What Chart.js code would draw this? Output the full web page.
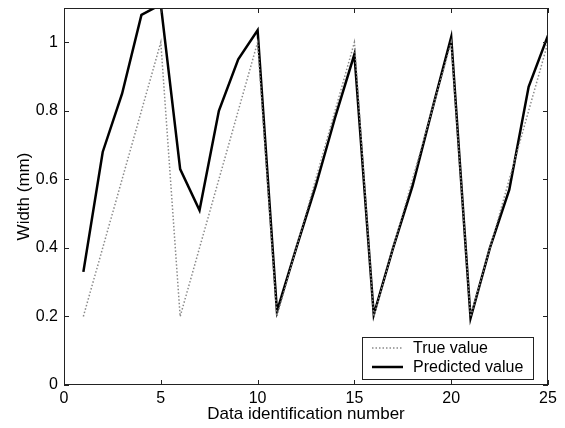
<!DOCTYPE html>
<html>
<head>
<meta charset="utf-8">
<script src="https://cdn.jsdelivr.net/npm/chart.js@4"></script>
<style>
  body { margin: 0; background: #fff; }
  canvas { display: block; }
</style>
</head>
<body>
<canvas id="grafico" width="565" height="428"></canvas>
<script>
// data identification numbers
var idNumbers = [1, 2, 3, 4, 5, 6, 7, 8, 9, 10, 11, 12, 13, 14, 15, 16, 17, 18, 19, 20, 21, 22, 23, 24, 25];
// true widths (mm)
var trueValue = [0.2, 0.4, 0.6, 0.8, 1.0, 0.2, 0.4, 0.6, 0.8, 1.0, 0.2, 0.4, 0.6, 0.8, 1.0,
                 0.2, 0.4, 0.6, 0.8, 1.0, 0.2, 0.4, 0.6, 0.8, 1.0];
// predicted widths (mm)
var predictedValue = [0.33, 0.68, 0.85, 1.08, 1.11, 0.63, 0.51, 0.80, 0.95, 1.035, 0.215, 0.40, 0.58, 0.78, 0.965,
                      0.205, 0.40, 0.58, 0.80, 1.015, 0.195, 0.40, 0.57, 0.87, 1.02];
var xTicks = [0, 5, 10, 15, 20, 25];
var yTicks = [0, 0.2, 0.4, 0.6, 0.8, 1];

function puntos(valores) {
  return idNumbers.map(function (x, i) { return { x: x, y: valores[i] }; });
}

var fuente = "'Liberation Sans', Arial, Helvetica, sans-serif";

// box, inward ticks (all four sides) and the legend, MATLAB style
var marco = {
  id: 'marco',
  afterDraw: function (chart) {
    var ctx = chart.ctx;
    var a = chart.chartArea;
    var sx = chart.scales.x, sy = chart.scales.y;
    ctx.save();
    ctx.strokeStyle = '#222';
    ctx.lineWidth = 1;
    ctx.strokeRect(a.left + 0.5, a.top + 0.5, a.right - a.left - 1, a.bottom - a.top - 1);
    ctx.beginPath();
    xTicks.forEach(function (v) {
      var p = Math.round(sx.getPixelForValue(v)) + 0.5;
      ctx.moveTo(p, a.bottom); ctx.lineTo(p, a.bottom - 5);
      ctx.moveTo(p, a.top); ctx.lineTo(p, a.top + 5);
    });
    yTicks.forEach(function (v) {
      var p = Math.round(sy.getPixelForValue(v)) + 0.5;
      ctx.moveTo(a.left, p); ctx.lineTo(a.left + 5, p);
      ctx.moveTo(a.right, p); ctx.lineTo(a.right - 5, p);
    });
    ctx.stroke();

    // legend
    var bx = 362, by = 337, bw = 171, bh = 42;
    ctx.fillStyle = '#fff';
    ctx.fillRect(bx, by, bw, bh);
    ctx.strokeStyle = '#222';
    ctx.strokeRect(bx + 0.5, by + 0.5, bw, bh);
    var ds = chart.data.datasets;
    ctx.font = '16px ' + fuente;
    ctx.textBaseline = 'middle';
    ds.forEach(function (d, i) {
      var y = by + 11 + i * 19;
      ctx.beginPath();
      ctx.strokeStyle = d.borderColor;
      ctx.lineWidth = d.borderWidth;
      ctx.setLineDash(d.borderDash || []);
      ctx.moveTo(bx + 10, y); ctx.lineTo(bx + 41, y);
      ctx.stroke();
      ctx.setLineDash([]);
      ctx.fillStyle = '#000';
      ctx.fillText(d.label, bx + 51, y + 1);
    });
    ctx.restore();
  }
};

var ctx = document.getElementById('grafico');
var grafico = new Chart(ctx, {
  type: 'line',
  data: {
    datasets: [
      {
        label: 'True value',
        data: puntos(trueValue),
        borderColor: '#8a8a8a',
        borderWidth: 1.5,
        borderDash: [1.5, 2],
        pointRadius: 0,
        fill: false
      },
      {
        label: 'Predicted value',
        data: puntos(predictedValue),
        borderColor: '#000',
        borderWidth: 2.5,
        pointRadius: 0,
        fill: false
      }
    ]
  },
  options: {
    responsive: false,
    animation: false,
    devicePixelRatio: 1,
    layout: { padding: { top: 8, right: 17, left: 0, bottom: 0 } },
    plugins: {
      legend: { display: false },
      tooltip: { enabled: false }
    },
    scales: {
      x: {
        type: 'linear',
        min: 0,
        max: 25,
        afterBuildTicks: function (s) { s.ticks = xTicks.map(function (v) { return { value: v }; }); },
        afterFit: function (s) { s.height = 43; s.paddingLeft = 0; s.paddingRight = 0; },
        grid: { display: false, drawTicks: false },
        border: { display: false },
        ticks: { padding: 4, color: '#000', font: { family: fuente, size: 16 }, maxRotation: 0 },
        title: { display: true, text: 'Data identification number', color: '#000',
                 font: { family: fuente, size: 17 }, padding: { top: 0, bottom: 3 } }
      },
      y: {
        type: 'linear',
        min: 0,
        max: 1.1,
        afterBuildTicks: function (s) { s.ticks = yTicks.map(function (v) { return { value: v }; }); },
        afterFit: function (s) { s.width = 64; s.paddingTop = 0; s.paddingBottom = 0; },
        grid: { display: false, drawTicks: false },
        border: { display: false },
        ticks: {
          padding: 6, color: '#000', font: { family: fuente, size: 16 },
          callback: function (v) { return String(+v.toFixed(1)); }
        },
        title: { display: true, text: 'Width (mm)', color: '#000',
                 font: { family: fuente, size: 17 }, padding: { top: 14, bottom: 0 } }
      }
    }
  },
  plugins: [marco]
});
</script>
</body>
</html>
